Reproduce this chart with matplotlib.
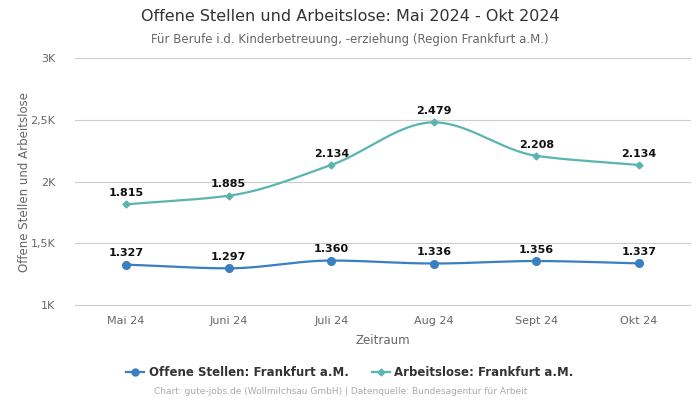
import numpy as np
import matplotlib.pyplot as plt
from matplotlib.lines import Line2D

# ============ Daten ============
monate = ["Mai 24", "Juni 24", "Juli 24", "Aug 24", "Sept 24", "Okt 24"]
offene_stellen = [1327, 1297, 1360, 1336, 1356, 1337]
arbeitslose = [1815, 1885, 2134, 2479, 2208, 2134]
y_ticks = [1000, 1500, 2000, 2500, 3000]
y_tick_labels = ["1K", "1,5K", "2K", "2,5K", "3K"]

farbe_os = "#3a7fbf"
farbe_al = "#5ab5ae"


def glatte_kurve(x, y, n=40):
    # monotone kubische Interpolation (Fritsch-Carlson) nur fuer die Darstellung
    x = np.asarray(x, float)
    y = np.asarray(y, float)
    h = np.diff(x)
    d = np.diff(y) / h
    m = np.zeros_like(y)
    m[0], m[-1] = d[0], d[-1]
    for i in range(1, len(y) - 1):
        if d[i - 1] * d[i] <= 0:
            m[i] = 0
        else:
            m[i] = 2 / (1 / d[i - 1] + 1 / d[i])
    xs, ys = [], []
    for i in range(len(x) - 1):
        t = np.linspace(0, 1, n)
        h00 = 2 * t**3 - 3 * t**2 + 1
        h10 = t**3 - 2 * t**2 + t
        h01 = -2 * t**3 + 3 * t**2
        h11 = t**3 - t**2
        xs.append(x[i] + t * h[i])
        ys.append(h00 * y[i] + h10 * h[i] * m[i] + h01 * y[i + 1] + h11 * h[i] * m[i + 1])
    return np.concatenate(xs), np.concatenate(ys)


fig = plt.figure(figsize=(7, 4), dpi=100)
ax = fig.add_axes([0.107, 0.2375, 0.879, 0.6175])

x = np.arange(len(monate))

for werte, farbe, marker, ms in [(offene_stellen, farbe_os, "o", 5.5),
                                 (arbeitslose, farbe_al, "D", 3.5)]:
    xs, ys = glatte_kurve(x, werte)
    ax.plot(xs, ys, color=farbe, lw=1.6, zorder=3)
    ax.plot(x, werte, ls="none", marker=marker, color=farbe, ms=ms, zorder=4)
    for xi, v in zip(x, werte):
        ax.annotate(f"{v/1000:.3f}", (xi, v), xytext=(0, 4.5), textcoords="offset points",
                    ha="center", va="bottom", fontsize=8, fontweight="bold", color="#111111")

ax.set_xlim(-0.5, len(monate) - 0.5)
ax.set_ylim(1000, 3000)
ax.set_yticks(y_ticks)
ax.set_yticklabels(y_tick_labels)
ax.set_xticks(x)
ax.set_xticklabels(monate)
ax.tick_params(axis="both", length=0, labelsize=8, labelcolor="#666666")
ax.tick_params(axis="x", pad=8)
ax.tick_params(axis="y", pad=14)
ax.grid(axis="y", color="#cccccc", lw=0.8)
for gl in ax.get_ygridlines():
    gl.set_clip_on(False)
ax.set_axisbelow(True)
for s in ax.spines.values():
    s.set_visible(False)

ax.set_xlabel("Zeitraum", fontsize=8.5, color="#666666", labelpad=6)
ax.set_ylabel("Offene Stellen und Arbeitslose", fontsize=8.5, color="#666666", labelpad=0)

fig.text(0.5, 0.958, "Offene Stellen und Arbeitslose: Mai 2024 - Okt 2024",
         ha="center", va="center", fontsize=11.5, color="#333333")
fig.text(0.5, 0.902, "Für Berufe i.d. Kinderbetreuung, -erziehung (Region Frankfurt a.M.)",
         ha="center", va="center", fontsize=8.5, color="#666666")

handles = [
    Line2D([], [], color=farbe_os, marker="o", ms=5, lw=1.6),
    Line2D([], [], color=farbe_al, marker="D", ms=3.5, lw=1.6),
]
fig.legend(handles, ["Offene Stellen: Frankfurt a.M.", "Arbeitslose: Frankfurt a.M."],
           loc="center", bbox_to_anchor=(0.5, 0.068), ncol=2, frameon=False,
           prop={"size": 8.5, "weight": "bold"}, labelcolor="#333333",
           handlelength=1.5, handletextpad=0.4, columnspacing=2.0)

fig.text(0.486, 0.02, "Chart: gute-jobs.de (Wollmilchsau GmbH) | Datenquelle: Bundesagentur für Arbeit",
         ha="center", va="center", fontsize=6.5, color="#aaaaaa")

fig.savefig("out.png", dpi=100)
